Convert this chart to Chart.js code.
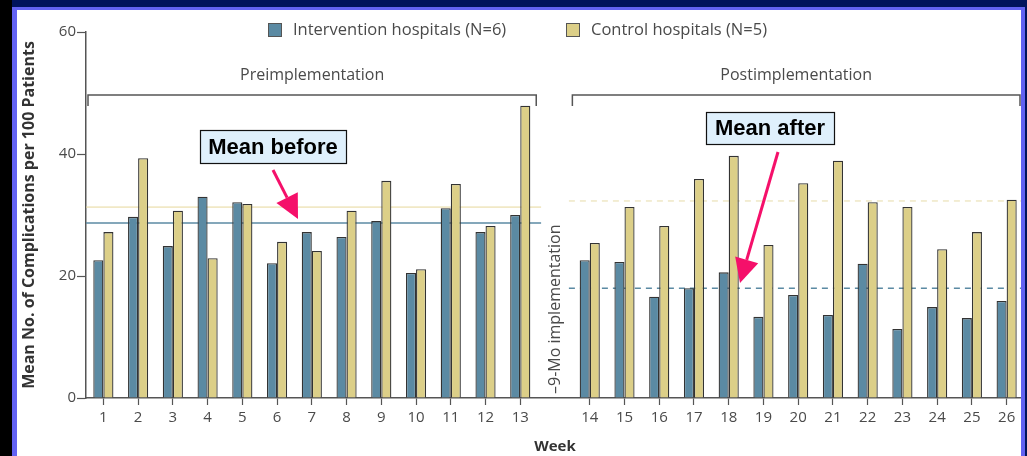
<!DOCTYPE html>
<html>
<head>
<meta charset="utf-8">
<script src="https://cdn.jsdelivr.net/npm/chart.js@4.4.1/dist/chart.umd.min.js"></script>
<style>
  html, body { margin: 0; padding: 0; background: #fff; }
  #wrap { width: 1027px; height: 456px; position: relative; }
</style>
</head>
<body>
<div id="wrap"><canvas id="chart" width="1027" height="456"></canvas></div>
<script>
// week labels, blank slot = 9-month implementation gap
const weeks = ["1","2","3","4","5","6","7","8","9","10","11","12","13","",
               "14","15","16","17","18","19","20","21","22","23","24","25","26"];

const intervention = [22.6, 29.7, 24.9, 33.0, 32.1, 22.1, 27.2, 26.4, 29.0, 20.5, 31.1, 27.2, 30.0, null,
                      22.6, 22.3, 16.6, 18.0, 20.6, 13.3, 16.9, 13.6, 22.0, 11.3, 14.9, 13.1, 15.9];
const control = [27.2, 39.3, 30.7, 22.9, 31.8, 25.6, 24.1, 30.7, 35.6, 21.1, 35.1, 28.2, 47.9, null,
                 25.4, 31.3, 28.2, 35.9, 39.7, 25.1, 35.2, 38.9, 32.1, 31.3, 24.4, 27.2, 32.5];

// means: [intervention, control]
const meanBefore = [28.7, 31.3];
const meanAfter = [18.0, 32.3];

const yTicks = [0, 20, 40, 60];

const blueColor = "#5b8aa3";
const yellowColor = "#dccf88";
const textGrey = "#4a4a4a";
const baseFont = "'Open Sans', sans-serif";

const overlayPlugin = {
    id: "overlay",
    beforeDatasetsDraw(chart) {
        const ctx = chart.ctx;
        const x = chart.scales.x;
        const y = chart.scales.y;
        const slot = x.getPixelForValue(1) - x.getPixelForValue(0);
        const preEnd = x.getPixelForValue(12) + slot * 0.6;
        const postStart = x.getPixelForValue(14) - slot * 0.6;

        ctx.save();
        // mean before (solid)
        ctx.lineWidth = 1;
        ctx.strokeStyle = "#e6d79a";
        ctx.beginPath();
        ctx.moveTo(chart.chartArea.left, y.getPixelForValue(meanBefore[1]));
        ctx.lineTo(preEnd, y.getPixelForValue(meanBefore[1]));
        ctx.stroke();
        ctx.lineWidth = 1.5;
        ctx.strokeStyle = blueColor;
        ctx.beginPath();
        ctx.moveTo(chart.chartArea.left, y.getPixelForValue(meanBefore[0]));
        ctx.lineTo(preEnd, y.getPixelForValue(meanBefore[0]));
        ctx.stroke();

        // mean after (dashed)
        ctx.setLineDash([6, 5]);
        ctx.lineWidth = 1;
        ctx.strokeStyle = "#e6dca8";
        ctx.beginPath();
        ctx.moveTo(postStart, y.getPixelForValue(meanAfter[1]));
        ctx.lineTo(chart.chartArea.right, y.getPixelForValue(meanAfter[1]));
        ctx.stroke();
        ctx.lineWidth = 1.5;
        ctx.strokeStyle = blueColor;
        ctx.beginPath();
        ctx.moveTo(postStart, y.getPixelForValue(meanAfter[0]));
        ctx.lineTo(chart.chartArea.right, y.getPixelForValue(meanAfter[0]));
        ctx.stroke();
        ctx.restore();
    },
    afterDraw(chart) {
        const ctx = chart.ctx;
        const x = chart.scales.x;
        const slot = x.getPixelForValue(1) - x.getPixelForValue(0);
        const area = chart.chartArea;

        ctx.save();
        // period brackets
        const bracketY = 95;
        const preL = area.left + 2, preR = x.getPixelForValue(12) + slot * 0.46;
        const postL = x.getPixelForValue(14) - slot * 0.5, postR = area.right - 4;
        ctx.strokeStyle = "#555";
        ctx.lineWidth = 1.5;
        [[preL, preR], [postL, postR]].forEach(([l, r]) => {
            ctx.beginPath();
            ctx.moveTo(l, bracketY + 11);
            ctx.lineTo(l, bracketY);
            ctx.lineTo(r, bracketY);
            ctx.lineTo(r, bracketY + 11);
            ctx.stroke();
        });
        ctx.fillStyle = textGrey;
        ctx.font = "16px " + baseFont;
        ctx.textAlign = "center";
        ctx.textBaseline = "middle";
        ctx.fillText("Preimplementation", (preL + preR) / 2, 75);
        ctx.fillText("Postimplementation", (postL + postR) / 2, 75);

        // legend
        const items = chart.data.datasets.map(ds => ({ label: ds.label, color: ds.backgroundColor }));
        const legendX = [268, 566];
        ctx.textAlign = "left";
        ctx.font = "16.5px " + baseFont;
        items.forEach((it, i) => {
            ctx.fillStyle = it.color;
            ctx.fillRect(legendX[i], 23, 13, 13);
            ctx.strokeStyle = "#555";
            ctx.lineWidth = 1;
            ctx.strokeRect(legendX[i] + 0.5, 23.5, 13, 13);
            ctx.fillStyle = textGrey;
            ctx.fillText(it.label, legendX[i] + 25, 30);
        });

        // implementation gap label
        ctx.save();
        ctx.translate(x.getPixelForValue(13), area.bottom - 4);
        ctx.rotate(-Math.PI / 2);
        ctx.textAlign = "left";
        ctx.fillStyle = textGrey;
        ctx.font = "16px " + baseFont;
        ctx.fillText("\u20139-Mo implementation", 0, 0);
        ctx.restore();

        // callout boxes
        ctx.font = "bold 22px 'Liberation Sans', Arial, sans-serif";
        ctx.textAlign = "center";
        [["Mean before", 200, 130, 146, 33], ["Mean after", 706, 112, 128, 32]].forEach(([t, bx, by, bw, bh]) => {
            ctx.fillStyle = "#dff0fc";
            ctx.fillRect(bx, by, bw, bh);
            ctx.strokeStyle = "#111";
            ctx.lineWidth = 1.2;
            ctx.strokeRect(bx + 0.5, by + 0.5, bw, bh);
            ctx.fillStyle = "#000";
            ctx.fillText(t, bx + bw / 2, by + bh / 2 + 1);
        });

        // arrows
        const arrow = (x1, y1, x2, y2) => {
            const ang = Math.atan2(y2 - y1, x2 - x1);
            const head = 24, half = 12;
            const bx = x2 - head * Math.cos(ang), by = y2 - head * Math.sin(ang);
            ctx.strokeStyle = "#f5106a";
            ctx.fillStyle = "#f5106a";
            ctx.lineWidth = 3;
            ctx.beginPath();
            ctx.moveTo(x1, y1);
            ctx.lineTo(bx, by);
            ctx.stroke();
            ctx.beginPath();
            ctx.moveTo(x2, y2);
            ctx.lineTo(bx + half * Math.sin(ang), by - half * Math.cos(ang));
            ctx.lineTo(bx - half * Math.sin(ang), by + half * Math.cos(ang));
            ctx.closePath();
            ctx.fill();
        };
        arrow(273, 170, 298, 219);
        arrow(778, 152, 740, 283);

        // slide frame
        ctx.fillStyle = "#000";
        ctx.fillRect(0, 0, 12, 456);
        ctx.fillStyle = "#00135c";
        ctx.fillRect(12, 0, 1015, 7);
        ctx.fillRect(1025, 0, 2, 456);
        ctx.fillStyle = "#6262f2";
        ctx.fillRect(12, 7, 5, 449);
        ctx.fillRect(12, 7, 1013, 3);
        ctx.fillRect(1021, 7, 4, 449);
        ctx.restore();
    }
};

const ctx = document.getElementById("chart").getContext("2d");

new Chart(ctx, {
    type: "bar",
    data: {
        labels: weeks,
        datasets: [
            {
                label: "Intervention hospitals (N=6)",
                data: intervention,
                backgroundColor: blueColor,
                borderColor: "#333",
                borderWidth: 1.3
            },
            {
                label: "Control hospitals (N=5)",
                data: control,
                backgroundColor: yellowColor,
                borderColor: "#333",
                borderWidth: 1.3
            }
        ]
    },
    options: {
        responsive: false,
        animation: false,
        categoryPercentage: 0.58,
        barPercentage: 1.0,
        layout: {
            padding: { left: 17, top: 32, right: 3, bottom: 0 }
        },
        scales: {
            x: {
                grid: {
                    display: true,
                    offset: false,
                    drawOnChartArea: false,
                    drawTicks: true,
                    tickLength: 7,
                    tickColor: c => (weeks[c.index] === "" ? "rgba(0,0,0,0)" : "#555"),
                    tickWidth: 1.2
                },
                border: { color: "#555", width: 1.5 },
                ticks: {
                    color: textGrey,
                    font: { size: 15, family: baseFont },
                    padding: 4,
                    maxRotation: 0,
                    autoSkip: false
                },
                title: {
                    display: true,
                    text: "Week",
                    color: "#333",
                    font: { size: 15, weight: "bold", family: baseFont },
                    padding: { top: 0, bottom: 0 }
                },
                afterFit: scale => { scale.height = 456 - 398; }
            },
            y: {
                min: 0,
                max: 60,
                afterBuildTicks: scale => { scale.ticks = yTicks.map(v => ({ value: v })); },
                grid: {
                    display: true,
                    drawOnChartArea: false,
                    drawTicks: true,
                    tickLength: 9,
                    tickColor: "#555",
                    tickWidth: 1.2
                },
                border: { color: "#555", width: 1.5 },
                ticks: {
                    color: textGrey,
                    font: { size: 15, family: baseFont },
                    padding: 1
                },
                title: {
                    display: true,
                    text: "Mean No. of Complications per 100 Patients",
                    color: "#333",
                    font: { size: 16, weight: "bold", family: baseFont },
                    padding: { top: 3, bottom: 0 }
                },
                afterFit: scale => { scale.width = 86 - 17; }
            }
        },
        plugins: {
            legend: { display: false },
            tooltip: { enabled: false }
        }
    },
    plugins: [overlayPlugin]
});
</script>
</body>
</html>
